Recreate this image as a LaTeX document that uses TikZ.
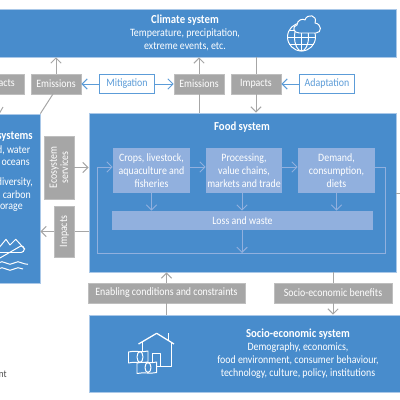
\documentclass[tikz,border=0pt]{standalone}
\usepackage{fontspec}
\setmainfont{Carlito}[FakeStretch=.88]
\usetikzlibrary{arrows.meta,positioning,calc}
\definecolor{sysblue}{RGB}{72,140,204}
\definecolor{edgeblue}{RGB}{170,200,232}
\definecolor{paleblue}{RGB}{145,176,222}
\definecolor{policyblue}{RGB}{92,156,216}
\definecolor{flowgray}{RGB}{166,166,166}
\definecolor{rimgray}{RGB}{190,190,190}
\newcommand{\systitle}[1]{{\fontsize{8.7}{9.3}\selectfont\bfseries #1}}
\tikzset{
  sysbox/.style={rectangle, draw=edgeblue, fill=sysblue, line width=.5pt, inner sep=0pt, text=white, align=center, font=\fontsize{8}{9.3}\selectfont},
  systext/.style={text=white, align=center, inner sep=0pt, font=\fontsize{8}{9.3}\selectfont},
  flowbox/.style={rectangle, draw=rimgray, fill=flowgray, line width=.5pt, inner sep=0pt, text=white, minimum height=14.2pt, font=\fontsize{8}{9}\selectfont},
  stepbox/.style={rectangle, fill=paleblue, inner sep=0pt, text=white, align=center, font=\fontsize{8}{9.3}\selectfont},
  policybox/.style={rectangle, draw=policyblue, fill=white, line width=.7pt, inner sep=0pt, text=policyblue, minimum height=14.2pt, font=\fontsize{8}{9}\selectfont},
  flowline/.style={flowgray, line width=.7pt},
  flowarrow/.style={flowgray, line width=.7pt, -{Straight Barb[length=1.3mm,width=2.6mm]}},
  policyarrow/.style={policyblue, line width=.7pt, -{Straight Barb[length=1.3mm,width=2.6mm]}},
  steparrow/.style={paleblue, line width=.7pt, -{Straight Barb[length=1.3mm,width=2.6mm]}},
  icon/.style={white, line width=.7pt, line join=round}
}
\begin{document}
\begin{tikzpicture}[x=.025cm,y=-.025cm]
  \clip[use as bounding box] (0,0) rectangle (400,400);

  % Systems
  \node[sysbox, minimum width=10.55cm, minimum height=1.2cm] (climate) at (185,33) {\systitle{Climate system}\\Temperature, precipitation,\\extreme events, etc.};
  \node[sysbox, minimum width=2.5cm, minimum height=4.225cm] (land) at (-10,198.5) {};
  \node[sysbox, minimum width=7.675cm, minimum height=3.975cm] (food) at (242.5,192.5) {};
  \node[sysbox, minimum width=10.45cm, minimum height=1.925cm] (socio) at (298,353.5) {\systitle{Socio-economic system}\\Demography, economics,\\food environment, consumer behaviour,\\technology, culture, policy, institutions};

  \node[systext] (foodtitle) at (242,127) {\systitle{Food system}};
  \node[systext, anchor=east] (land1) at (33,137) {\systitle{systems}};
  \node[systext, anchor=east] (land2) at (30.5,150) {d, water};
  \node[systext, anchor=east] (land3) at (30,163) {oceans};
  \node[systext, anchor=east] (land4) at (33,182) {diversity,};
  \node[systext, anchor=east] (land5) at (31,195) {, carbon};
  \node[systext, anchor=east] (land6) at (23,208) {orage};

  % Top row
  \node[flowbox, minimum width=1.25cm] (impactsL) at (-1,84) {\phantom{Imp}acts};
  \node[flowbox, minimum width=1.25cm] (emissionsL) at (56,84) {Emissions};
  \node[policybox, minimum width=1.375cm] (mitigation) at (127,84) {Mitigation};
  \node[flowbox, minimum width=1.25cm] (emissionsR) at (199,84) {Emissions};
  \node[flowbox, minimum width=1.25cm] (impactsR) at (256,84) {Impacts};
  \node[policybox, minimum width=1.375cm] (adaptation) at (327,84) {Adaptation};

  % Side tags
  \node[flowbox, minimum width=1.575cm, minimum height=.75cm, rotate=90, align=center] (services) at (59,167.5) {Ecosystem\\[-1pt]services};
  \node[flowbox, minimum width=1.275cm, minimum height=.5cm, rotate=90] (impactsS) at (64.5,231.5) {Impacts};

  % Bottom row
  \node[flowbox, minimum width=3.925cm] (enabling) at (166.5,293) {Enabling conditions and constraints};
  \node[flowbox, minimum width=2.95cm] (benefits) at (333,293) {Socio-economic benefits};

  % Food chain
  \node[stepbox, minimum width=1.925cm, minimum height=1.125cm] (crops) at (151.5,170.5) {Crops, livestock,\\aquaculture and\\fisheries};
  \node[stepbox, minimum width=1.9cm, minimum height=1.125cm] (processing) at (244,170.5) {Processing,\\value chains,\\markets and trade};
  \node[stepbox, minimum width=1.925cm, minimum height=1.125cm] (demand) at (336.5,170.5) {Demand,\\consumption,\\diets};
  \node[stepbox, minimum width=6.525cm, minimum height=.475cm] (loss) at (242.5,220.5) {Loss and waste};
  \coordinate (loopA) at (385,167);
  \coordinate (loopB) at (385,253);
  \coordinate (loopC) at (97,253);
  \coordinate (loopD) at (97,167);
  \coordinate (lossend) at (242,253);

  \draw[steparrow] (crops.east |- loopD) -- (processing.west |- loopD);
  \draw[steparrow] (processing.east |- loopD) -- (demand.west |- loopD);
  \draw[steparrow] (crops.south) -- (crops.south |- loss.north);
  \draw[steparrow] (processing.south -| lossend) -- (loss.north -| lossend);
  \draw[steparrow] (demand.south) -- (demand.south |- loss.north);
  \draw[steparrow] (loss.south -| lossend) -- (lossend);
  \draw[steparrow] (demand.east |- loopA) -- (loopA) -- (loopB) -- (loopC) -- (loopD) -- (crops.west |- loopD);

  % Flows
  \draw[flowarrow] (emissionsL) -- (emissionsL |- climate.south);
  \draw[flowarrow] (emissionsR) -- (emissionsR |- climate.south);
  \draw[flowline] (emissionsR.south) -- (emissionsR.south |- food.north);
  \draw[flowline] (impactsR.north) -- (impactsR.north |- climate.south);
  \draw[flowarrow] (impactsR.south) -- (impactsR.south |- food.north);
  \coordinate (diagL) at (53,94);
  \draw[flowline] (diagL) -- (land.north east);
  \coordinate (diagI) at (3,107);
  \coordinate (diagJ) at (-1,114);
  \draw[flowline] (diagI) -- (diagJ);
  \draw[policyarrow] (mitigation) -- (emissionsL);
  \draw[policyarrow] (mitigation) -- (emissionsR);
  \draw[policyarrow] (adaptation) -- (impactsR);
  \draw[flowarrow] (services) -- (services -| food.west);
  \draw[flowline] (food.west |- impactsS) -- (impactsS);
  \draw[flowarrow] (impactsS) -- (impactsS -| land.east);
  \draw[flowline] (socio.north -| enabling) -- (enabling);
  \draw[flowarrow] (enabling) -- (enabling |- food.south);
  \draw[flowline] (food.south -| benefits) -- (benefits);
  \draw[flowarrow] (benefits) -- (benefits |- socio.north);
  \coordinate (offpage) at (404,193);
  \draw[flowline] (offpage) -- (food.east |- offpage);

  \node[text=black!70, font=\fontsize{7.4}{9}\selectfont, inner sep=0pt, anchor=east] (legend) at (7,374) {nt};

  % Globe and cloud
  \draw[icon] (301.5,37) circle (14);
  \draw[icon] (301.5,37) ellipse (7 and 14);
  \draw[icon] (301.5,23) -- (301.5,51);
  \draw[icon] (289,30) -- (314,30) (287.5,37) -- (315.5,37) (289,44) -- (314,44);
  \draw[icon, fill=sysblue] (299,33) .. controls (293,33) and (292,26) .. (297,25) .. controls (297,20) and (303,18) .. (305,20) .. controls (307,13) and (318,15) .. (315,23) .. controls (322,24) and (322,33) .. (316,33) -- cycle;

  % House and notes
  \draw[icon, line width=.9pt] (138.5,344) -- (156.7,333.3) -- (174,344);
  \draw[icon] (168,333) -- (168,340);
  \draw[icon] (142.5,342) -- (142.5,352) (171.7,343) -- (171.7,366) -- (152.7,366) -- (152.7,353.5) -- (160.7,353.5) -- (160.7,366);
  \draw[icon, fill=sysblue] (128.5,352) .. controls (134,350) and (142,353) .. (148,351) -- (148,362) .. controls (142,364) and (134,361) .. (128.5,363) -- cycle;
  \draw[icon] (140,357) ellipse (3 and 5.5);
  \draw[icon, fill=sysblue] (137,363) .. controls (143,361) and (151,364) .. (156.7,362) -- (156.7,372.5) .. controls (151,374) and (143,372) .. (137,373.5) -- cycle;
  \draw[icon] (148,367.5) ellipse (3 and 5);

  % Mountains and waves
  \draw[icon] (-2,249) -- (6,239.3) -- (10,245) -- (15.7,239.3) -- (25,249.3);
  \draw[icon] (-2,252.5) -- (21,252.5) arc (90:-90:3.3) -- (-2,259.1);
  \draw[icon] (-2,263) sin (2,261.7) cos (6,263) sin (10,264.3) cos (14,263) sin (18,261.7) cos (22,263) sin (28,264.3);
  \draw[icon] (-2,269) sin (2,267.7) cos (6,269) sin (10,270.3) cos (14,269) sin (18,267.7) cos (23,269);
\end{tikzpicture}
\end{document}
